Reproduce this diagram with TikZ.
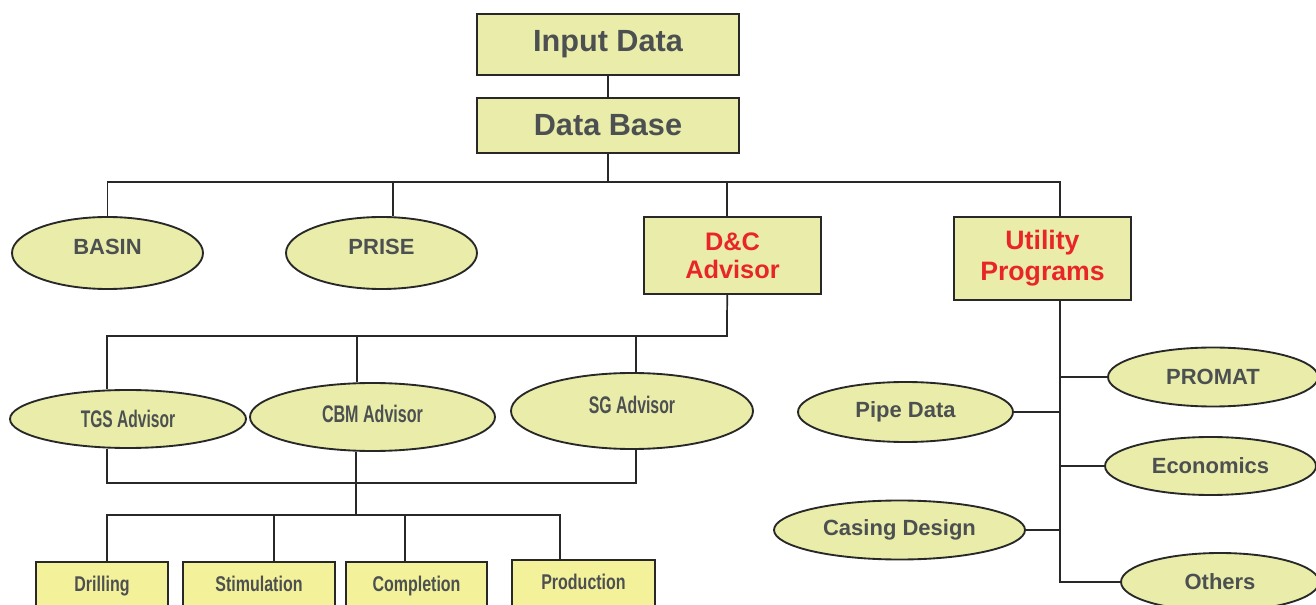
\documentclass[tikz,border=0pt]{standalone}
\usepackage{fontspec}
\setmainfont{Liberation Sans}
\usepackage{graphicx}
\usetikzlibrary{shapes.geometric}
\definecolor{boxfill}{RGB}{234,237,170}
\definecolor{taskfill}{RGB}{243,242,155}
\definecolor{labelgray}{RGB}{77,80,80}
\definecolor{advred}{RGB}{232,38,42}
\definecolor{linegray}{RGB}{40,40,40}
\tikzset{
  data box/.style={
    rectangle, draw=linegray, line width=1.5pt, fill=boxfill, inner sep=0pt,
    text=labelgray, font=\fontsize{23}{27}\selectfont\bfseries
  },
  advisor box/.style={
    rectangle, draw=linegray, line width=1.5pt, fill=boxfill, inner sep=0pt,
    align=center, text=advred, font=\fontsize{19}{21}\selectfont\bfseries
  },
  tool oval/.style={
    ellipse, draw=linegray, line width=1.4pt, fill=boxfill, inner sep=0pt,
    text=labelgray, font=\fontsize{16.5}{20}\selectfont\bfseries
  },
  narrow oval/.style={
    tool oval, font=\fontsize{18}{20}\selectfont\bfseries
  },
  task box/.style={
    rectangle, draw=linegray, line width=1.5pt, fill=taskfill, inner sep=0pt,
    text height=12pt, text depth=5pt,
    text=labelgray, font=\fontsize{16}{18}\selectfont\bfseries
  },
  wire/.style={draw=linegray, line width=1.3pt}
}

\begin{document}
\begin{tikzpicture}[x=0.75pt, y=-0.75pt]
\useasboundingbox (0,0) rectangle (1316,605);

% 顶部：输入与数据库
\node[data box, minimum width=196.5pt, minimum height=45.75pt] (indata) at (608,44.5) {Input Data};
\node[data box, minimum width=196.5pt, minimum height=41.25pt] (database) at (608,125.5) {Data Base};
\coordinate (hub) at (608,182);

\draw[wire] (indata) -- (database);
\draw[wire] (database) -- (hub);

% 第二行：四个分支
\node[tool oval, minimum width=143.25pt, minimum height=54pt, text depth=9pt] (basin) at (107.5,253) {BASIN};
\node[tool oval, minimum width=143.25pt, minimum height=54pt, text depth=9pt] (prise) at (381.5,253) {PRISE};
\node[advisor box, minimum width=132.75pt, minimum height=57.75pt] (dc) at (732.5,255.5) {D\&C\\Advisor};
\node[advisor box, minimum width=132.75pt, minimum height=62.25pt, font=\fontsize{20}{23}\selectfont\bfseries] (utility) at (1042.5,258.5) {Utility\\Programs};

\draw[wire] (basin) |- (hub) -| ([xshift=13.1pt]utility.north);
\draw[wire] ([xshift=8.6pt]prise.north) |- (hub);
\draw[wire] ([xshift=-4pt]dc.north) |- (hub);

% 第三行：D&C 下的三个 Advisor
\node[narrow oval, minimum width=177pt, minimum height=43.5pt] (tgs) at (128,419) {\scalebox{0.65}[1]{TGS Advisor}};
\node[narrow oval, minimum width=183.75pt, minimum height=51pt, text depth=4.5pt] (cbm) at (372.5,417) {\scalebox{0.67}[1]{CBM Advisor}};
\node[narrow oval, minimum width=181.5pt, minimum height=57pt, text depth=10pt] (sg) at (632,411) {\scalebox{0.66}[1]{SG Advisor}};
\coordinate (hub2) at (727,336);
\coordinate (hub3) at (356,483);
\coordinate (hub4) at (356,515);

\draw[wire] ([xshift=-4pt]dc.south) -- (hub2) -| ([xshift=-15.75pt]tgs.north);
\draw[wire] ([xshift=-11.6pt]cbm.north) |- (hub2);
\draw[wire] ([xshift=3pt]sg.north) |- (hub2);
\draw[wire] ([xshift=-15.75pt]tgs.south) |- (hub3) -| ([xshift=3pt]sg.south);
\draw[wire] ([xshift=-12.4pt]cbm.south) -- (hub4);

% 第四行：作业类型
\node[task box, minimum width=99pt, minimum height=37.5pt] (drilling) at (102,587) {\scalebox{0.75}[1]{Drilling}};
\node[task box, minimum width=114pt, minimum height=37.5pt] (stimulation) at (259,587) {\scalebox{0.75}[1]{Stimulation}};
\node[task box, minimum width=105.75pt, minimum height=37.5pt] (completion) at (416.5,587) {\scalebox{0.75}[1]{Completion}};
\node[task box, minimum width=107.25pt, minimum height=37.5pt] (production) at (583.5,585) {\scalebox{0.75}[1]{Production}};

\draw[wire] ([xshift=3.75pt]drilling.north) |- (hub4) -| ([xshift=-17.6pt]production.north);
\draw[wire] ([xshift=11.25pt]stimulation.north) |- (hub4);
\draw[wire] ([xshift=-8.6pt]completion.north) |- (hub4);

% 右侧：Utility Programs 的子项
\node[tool oval, minimum width=157.5pt, minimum height=44.25pt] (promat) at (1213,377) {PROMAT};
\node[tool oval, minimum width=161.25pt, minimum height=45pt] (pipe) at (905.5,412) {Pipe Data};
\node[tool oval, minimum width=158.25pt, minimum height=43.5pt] (econ) at (1210.5,466) {Economics};
\node[tool oval, minimum width=188.25pt, minimum height=44.25pt] (casing) at (899.5,530) {Casing Design};
\node[tool oval, minimum width=148.5pt, minimum height=43.5pt] (others) at (1220,582) {Others};

\draw[wire] ([xshift=13.1pt]utility.south) |- (others);
\draw[wire] ([xshift=13.1pt]utility.south) |- (promat);
\draw[wire] ([xshift=13.1pt]utility.south) |- (pipe);
\draw[wire] ([xshift=13.1pt]utility.south) |- (econ);
\draw[wire] ([xshift=13.1pt]utility.south) |- (casing);

\end{tikzpicture}
\end{document}
